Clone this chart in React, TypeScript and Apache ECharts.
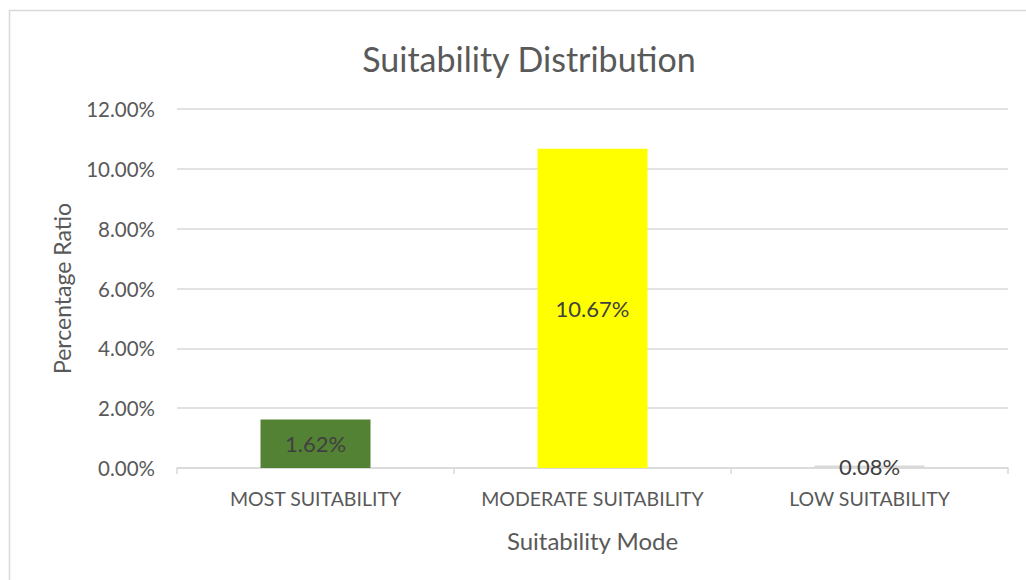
import React, { useEffect, useRef } from "react";
import * as echarts from "echarts";

const categories = ["MOST SUITABILITY", "MODERATE SUITABILITY", "LOW SUITABILITY"];
const values = [1.62, 10.67, 0.08];
const barColors = ["#548235", "#FFFF00", "#D9D9D9"];
const yTicks = { min: 0, max: 12, interval: 2 };

const FONT = "Lato";

export default function App() {
  const ref = useRef<HTMLDivElement>(null);
  useEffect(() => {
    document.body.style.margin = "0";
    const chart = echarts.init(ref.current!, null, { renderer: "svg" });
    chart.setOption({
      animation: false,
      backgroundColor: "#ffffff",
      textStyle: { fontFamily: FONT },
      title: {
        text: "Suitability Distribution",
        left: 524,
        top: 36,
        textAlign: "center",
        textStyle: { fontFamily: FONT, fontSize: 34, fontWeight: "normal", color: "#595959" },
      },
      graphic: [
        {
          type: "polyline",
          shape: { points: [[9.5, 600], [9.5, 10.5], [1030, 10.5]] },
          style: { stroke: "#d9d9d9", lineWidth: 1.5, fill: "none" },
          silent: true,
        },
      ],
      grid: { left: 177, right: 18, top: 109, bottom: 112 },
      xAxis: {
        type: "category",
        data: categories,
        name: "Suitability Mode",
        nameLocation: "middle",
        nameGap: 60,
        nameTextStyle: { fontFamily: FONT, fontSize: 24, color: "#595959" },
        axisLine: { lineStyle: { color: "#d9d9d9", width: 1.5 } },
        axisTick: { show: true, length: 6, lineStyle: { color: "#d9d9d9", width: 1.5 } },
        axisLabel: {
          fontFamily: FONT,
          fontSize: 19.5,
          color: "#595959",
          margin: 20,
          interval: 0,
          hideOverlap: false,
        },
      },
      yAxis: {
        type: "value",
        min: yTicks.min,
        max: yTicks.max,
        interval: yTicks.interval,
        name: "Percentage Ratio",
        nameLocation: "middle",
        nameGap: 104,
        nameTextStyle: { fontFamily: FONT, fontSize: 23, color: "#595959" },
        axisLine: { show: false },
        axisTick: { show: false },
        axisLabel: {
          fontFamily: FONT,
          fontSize: 20.5,
          color: "#595959",
          margin: 22,
          formatter: (v: number) => v.toFixed(2) + "%",
        },
        splitLine: { lineStyle: { color: "#d9d9d9", width: 1.5 } },
      },
      series: [
        {
          type: "bar",
          barWidth: 110,
          data: values.map((v, i) => ({ value: v, itemStyle: { color: barColors[i] } })),
          label: {
            show: true,
            position: "inside",
            fontFamily: FONT,
            fontSize: 22,
            color: "#404040",
            formatter: (p: any) => p.value.toFixed(2) + "%",
          },
        },
      ],
    });
    return () => chart.dispose();
  }, []);
  return <div ref={ref} style={{ width: 1026, height: 580 }} />;
}
